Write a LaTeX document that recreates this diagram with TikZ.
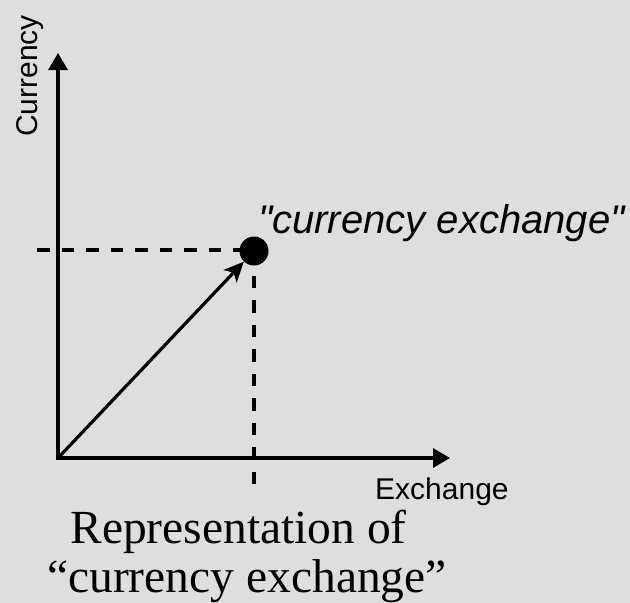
\documentclass[tikz,border=0pt]{standalone}
\usepackage{fontspec}
\setmainfont{Liberation Serif}
\setsansfont{Liberation Sans}
\newfontfamily\plainsans{Liberation Sans}
\usetikzlibrary{arrows.meta}
\definecolor{bg}{RGB}{222,222,222}
\begin{document}
\begin{tikzpicture}[x=1pt,y=-1pt,
  axes/.style={line width=3.2pt,line join=miter,
    {Triangle[length=17pt,width=19pt]}-{Triangle[length=17pt,width=19pt]}},
  guide/.style={line width=3.2pt,dash pattern=on 12.5pt off 12pt},
  vecarrow/.style={line width=3.2pt,-{Stealth[length=20pt,width=18pt,inset=5pt]}},
  axislabel/.style={inner sep=0pt,font=\sffamily\fontsize{30}{30}\selectfont},
  pointlabel/.style={inner sep=0pt,font=\plainsans\itshape\fontsize{40}{40}\selectfont},
  caption/.style={inner sep=0pt,font=\rmfamily\fontsize{47.5}{47.5}\selectfont},
  dotstyle/.style={circle,fill=black,minimum size=29pt,inner sep=0pt}]
\fill[bg] (0,0) rectangle (630,603);
\useasboundingbox (0,0) rectangle (630,603);
\coordinate (O) at (58,458);
\coordinate (ytip) at (58,53);
\coordinate (xtip) at (450,458);
\coordinate (hstart) at (37,250);
\coordinate (vend) at (255,487);
\coordinate (dc) at (254,251);
% guides
\draw[guide] (hstart) -- (hstart -| dc);
\draw[guide] (dc) -- (dc |- vend);
% axes
\draw[axes] (ytip) -- (O) -- (xtip);
% point
\node[dotstyle] (dot) at (dc) {};
\draw[vecarrow] (O) -- (dot);
% labels
\node[pointlabel,anchor=base west] (plabel) at (258,233) {"currency exchange"};
\node[axislabel,anchor=base west] (xlabel) at (375,499) {Exchange};
\node[axislabel,anchor=base,rotate=90] (ylabel) at (37,76) {Currency};
\node[caption,anchor=base] (cap1) at (238.5,543) {Representation of};
\node[caption,anchor=base] (cap2) at (247,592) {“currency exchange”};
\end{tikzpicture}
\end{document}
